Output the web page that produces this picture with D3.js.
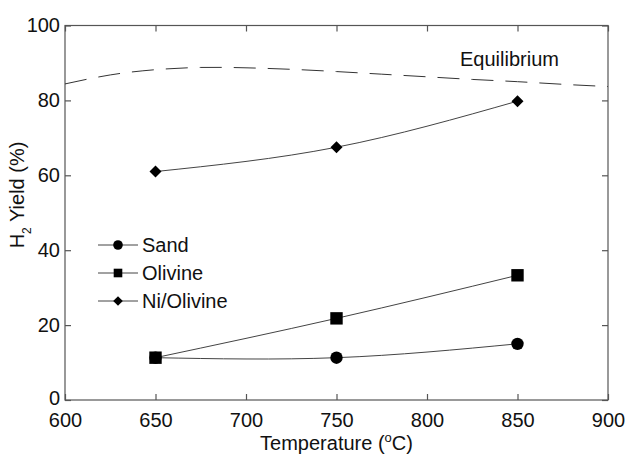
<!DOCTYPE html>
<html>
<head>
<meta charset="utf-8">
<script src="https://cdn.jsdelivr.net/npm/d3@7/dist/d3.min.js"></script>
<style>
  html, body { margin: 0; padding: 0; background: #fff; }
  svg text { font-family: "Liberation Sans", Arial, sans-serif; fill: #111; }
</style>
</head>
<body>
<svg id="chart" width="627" height="456"></svg>
<script>
// H2 yield versus temperature for three bed materials
const temps = [650, 750, 850];
const sandYield = [11.3, 11.3, 15.0];
const olivineYield = [11.3, 21.8, 33.3];
const niOlivineYield = [61.0, 67.5, 79.8];

// Equilibrium curve samples
const eqTemps = [600, 625, 650, 675, 700, 725, 750, 775, 800, 825, 850, 875, 900];
const eqYield = [84.4, 86.8, 88.2, 88.8, 88.7, 88.3, 87.7, 87.0, 86.3, 85.6, 85.0, 84.3, 83.7];

const xTicks = [600, 650, 700, 750, 800, 850, 900];
const yTicks = [0, 20, 40, 60, 80, 100];

const seriesNames = ["Sand", "Olivine", "Ni/Olivine"];
const seriesValues = [sandYield, olivineYield, niOlivineYield];

const svg = d3.select("#chart");
const m = { left: 65, right: 19, top: 25.5, bottom: 56 };
const W = 627, H = 456;

const x = d3.scaleLinear().domain([600, 900]).range([m.left, W - m.right]);
const y = d3.scaleLinear().domain([0, 100]).range([H - m.bottom, m.top]);

// marker drawers: circle, square, and a square turned 45° for the diamond
function drawMarker(sel, s, big) {
  if (s === 0) {
    sel.append("circle").attr("r", big ? 6.2 : 4.8).attr("fill", "#000");
  } else if (s === 1) {
    const h = big ? 6.2 : 4.3;
    sel.append("rect").attr("x", -h).attr("y", -h).attr("width", 2 * h).attr("height", 2 * h).attr("fill", "#000");
  } else {
    const h = big ? 6 : 4.8;
    sel.append("path").attr("d", `M0,${-h}L${h},0L0,${h}L${-h},0Z`).attr("fill", "#000");
  }
}

// frame
svg.append("rect")
  .attr("x", x(600)).attr("y", y(100))
  .attr("width", x(900) - x(600)).attr("height", y(0) - y(100))
  .attr("fill", "none").attr("stroke", "#555").attr("stroke-width", 1.2);

// axes with inward ticks
const fontSize = 20;
const xAxisB = svg.append("g").attr("transform", `translate(0,${y(0)})`)
  .call(d3.axisBottom(x).tickValues(xTicks).tickSize(-6).tickPadding(13).tickFormat(d3.format("d")));
const xAxisT = svg.append("g").attr("transform", `translate(0,${y(100)})`)
  .call(d3.axisTop(x).tickValues(xTicks).tickSize(-6).tickFormat(""));
const yAxisL = svg.append("g").attr("transform", `translate(${x(600)},0)`)
  .call(d3.axisLeft(y).tickValues(yTicks).tickSize(-6).tickPadding(5).tickFormat(d3.format("d")));
const yAxisR = svg.append("g").attr("transform", `translate(${x(900)},0)`)
  .call(d3.axisRight(y).tickValues(yTicks).tickSize(-6).tickFormat(""));
[xAxisB, xAxisT, yAxisL, yAxisR].forEach(a => {
  a.select(".domain").remove();
  a.selectAll(".tick line").attr("stroke", "#555").attr("stroke-width", 1.2);
  a.selectAll("text").attr("font-size", fontSize).attr("font-family", "Liberation Sans, Arial, sans-serif").attr("fill", "#111");
});
xAxisB.selectAll("text").attr("dy", "0.71em");
yAxisL.selectAll("text").attr("dy", d => d === 0 ? "0.2em" : "0.3em");

// equilibrium dashed curve
const eqLine = d3.line().x((d, i) => x(eqTemps[i])).y(d => y(d)).curve(d3.curveNatural);
svg.append("path")
  .attr("d", eqLine(eqYield))
  .attr("fill", "none").attr("stroke", "#333").attr("stroke-width", 1)
  .attr("stroke-dasharray", "22,12");
svg.append("text")
  .attr("x", 460).attr("y", 66)
  .attr("font-size", fontSize).text("Equilibrium");

// series curves and markers
const seriesLine = d3.line().x((d, i) => x(temps[i])).y(d => y(d)).curve(d3.curveNatural);
seriesValues.forEach((vals, s) => {
  svg.append("path")
    .attr("d", seriesLine(vals))
    .attr("fill", "none").attr("stroke", "#444").attr("stroke-width", 1);
  svg.append("g").selectAll("g")
    .data(vals).join("g")
    .attr("transform", (d, i) => `translate(${x(temps[i])},${y(d)})`)
    .each(function () { drawMarker(d3.select(this), s, true); });
});

// legend
const legend = svg.append("g");
const legendY = [245, 273, 301];
seriesNames.forEach((name, s) => {
  const g = legend.append("g").attr("transform", `translate(0,${legendY[s]})`);
  g.append("line").attr("x1", 98).attr("x2", 138).attr("y1", 0).attr("y2", 0)
    .attr("stroke", "#444").attr("stroke-width", 1);
  drawMarker(g.append("g").attr("transform", "translate(118,0)"), s, false);
  g.append("text").attr("x", 142).attr("y", 0).attr("dy", "0.36em")
    .attr("font-size", fontSize).text(name);
});

// x-axis title: Temperature (°C) with superscript o
const xt = svg.append("text")
  .attr("x", x(750)).attr("y", 450)
  .attr("text-anchor", "middle").attr("font-size", fontSize);
xt.append("tspan").text("Temperature (");
xt.append("tspan").attr("font-size", 13).attr("dy", -8).text("o");
xt.append("tspan").attr("dy", 8).text("C)");

// y-axis title: H2 Yield (%) with subscript 2
const yt = svg.append("text")
  .attr("transform", "translate(24,195) rotate(-90)")
  .attr("text-anchor", "middle").attr("font-size", 20);
yt.append("tspan").text("H");
yt.append("tspan").attr("font-size", 12).attr("dy", 7).text("2");
yt.append("tspan").attr("dy", -7).text(" Yield (%)");
</script>
</body>
</html>
